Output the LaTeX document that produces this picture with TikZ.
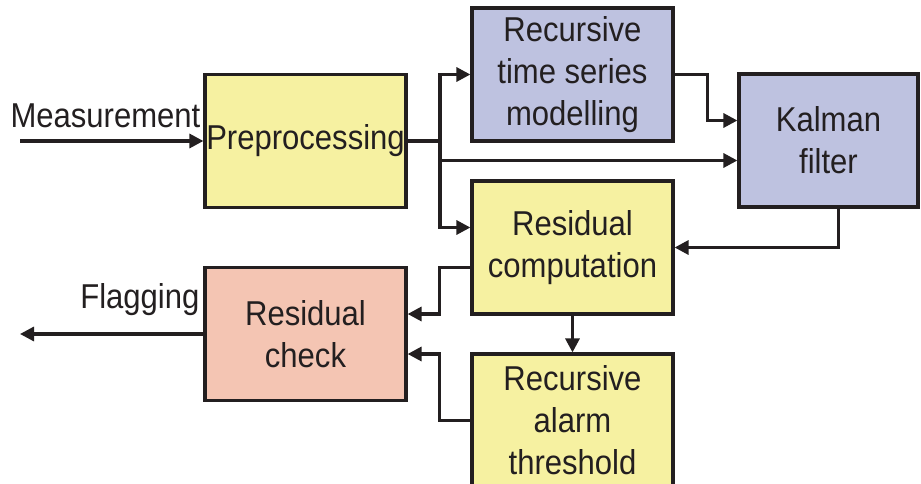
\documentclass[tikz,border=0pt]{standalone}
\usepackage{fontspec}
\setmainfont{Liberation Sans}[FakeStretch=0.9]
\usepackage{tikz}
\usetikzlibrary{positioning,calc,arrows.meta}

\definecolor{ink}{HTML}{231F20}
\definecolor{stageyellow}{HTML}{F6F1A1}
\definecolor{stageblue}{HTML}{BEC2E0}
\definecolor{stagesalmon}{HTML}{F4C5B3}

\begin{document}
\begin{tikzpicture}[x=1pt, y=-1pt, line width=3.2pt, draw=ink,
        font=\fontsize{34.5}{42}\selectfont,
        ->, >={Triangle[length=14pt,width=14pt]}]
      \tikzstyle{stage} = [draw=ink, align=center, text=ink, minimum width=201pt, minimum height=133pt, inner sep=0pt]
      \tikzstyle{label} = [text=ink, inner sep=0pt]
      \fill[white] (0,0) rectangle (921,484);
      \useasboundingbox (0,0) rectangle (921,484);
      % blocks
      \node (pre) [stage, fill=stageyellow] at (305.5,141) {Preprocessing};
      \node (rts) [stage, fill=stageblue] at (572.5,74.5) {Recursive\\time series\\modelling};
      \node (kal) [stage, fill=stageblue, minimum width=179pt] at (828.5,140.5) {Kalman\\filter};
      \node (rescomp) [stage, fill=stageyellow] at (572.5,247.5) {Residual\\computation};
      \node (rescheck) [stage, fill=stagesalmon] at (305.5,334) {Residual\\check};
      \node (alarm) [stage, fill=stageyellow] at (572.5,420.5) {Recursive\\alarm\\threshold};
      % free ends and branch point
      \coordinate (meas) at (20,141);
      \coordinate (flag) at (20,334);
      \coordinate (split) at (440,141);
      \node (measlbl) [label, anchor=south east] at (202,129) {Measurement};
      \node (flaglbl) [label, anchor=south east] at (201,317) {Flagging};
      % signal flow
      \draw (meas) -- (pre.west);
      \draw[-] (pre.east) -- (split);
      \draw (split) |- (rts.west);
      \draw (split) |- ([yshift=-20pt]kal.west);
      \draw (split) |- ([yshift=20pt]rescomp.west);
      \draw (rts.east) -- ++(33,0) |- ([yshift=20pt]kal.west);
      \draw ([xshift=10pt]kal.south) |- (rescomp.east);
      \draw ([yshift=-20pt]rescomp.west) -- ++(-31,0) |- ([yshift=20pt]rescheck.east);
      \draw (rescomp.south) -- (alarm.north);
      \draw (alarm.west) -- ++(-31,0) |- ([yshift=-20pt]rescheck.east);
      \draw (rescheck.west) -- (flag);
    \end{tikzpicture}
\end{document}
